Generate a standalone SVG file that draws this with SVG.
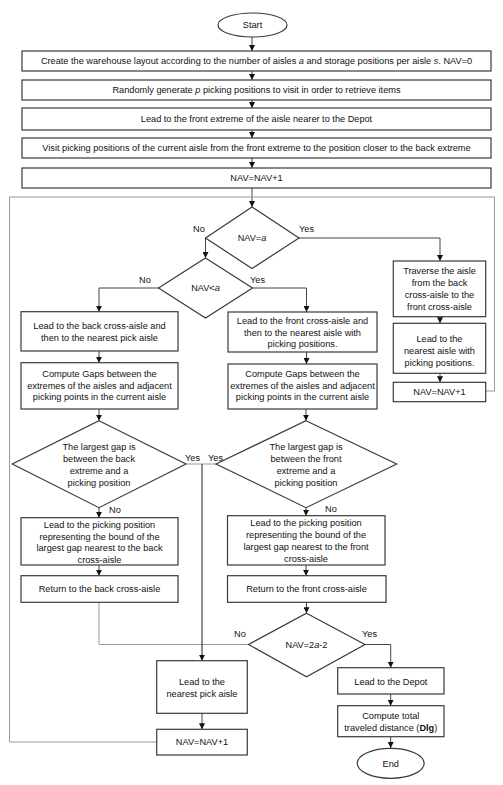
<svg xmlns="http://www.w3.org/2000/svg" width="503" height="785" viewBox="0 0 503 785">
<style>
.b{fill:#fff;stroke:#3a3a3a;stroke-width:1.2}
.t{font-family:"Liberation Sans",Arial,sans-serif;font-size:9.2px;fill:#111;text-anchor:middle}
.l{font-family:"Liberation Sans",Arial,sans-serif;font-size:9.2px;fill:#111}
.c{fill:none;stroke:#444;stroke-width:1}
.g{fill:none;stroke:#999;stroke-width:1}
</style>
<defs>
<marker id="a" viewBox="0 0 6 6" refX="6" refY="3" markerWidth="6" markerHeight="6" markerUnits="userSpaceOnUse" orient="auto"><path d="M0,0L6,3L0,6z" fill="#111"/></marker>
</defs>
<rect width="503" height="785" fill="#fff"/>
<g id="connectors">
<path class="c" d="M252,37V51" marker-end="url(#a)"/>
<path class="c" d="M252,71V80" marker-end="url(#a)"/>
<path class="c" d="M252,100V108" marker-end="url(#a)"/>
<path class="c" d="M252,130V138" marker-end="url(#a)"/>
<path class="c" d="M252,158V168" marker-end="url(#a)"/>
<path class="c" d="M252,188V207" marker-end="url(#a)"/>
<path class="g" d="M9.5,742V197H494.5V391H486"/>
<path class="g" d="M156.7,742H9.5"/>
<path class="c" d="M205.5,238V258" marker-end="url(#a)"/>
<path class="c" d="M158.5,288H99V311.7" marker-end="url(#a)"/>
<path class="c" d="M252.5,288H306.5V312" marker-end="url(#a)"/>
<path class="c" d="M299,238H440V261" marker-end="url(#a)"/>
<path class="c" d="M440,316.7V323.3" marker-end="url(#a)"/>
<path class="c" d="M440,373.3V382.3" marker-end="url(#a)"/>
<path class="c" d="M99,351V362.7" marker-end="url(#a)"/>
<path class="c" d="M306.5,352V364" marker-end="url(#a)"/>
<path class="c" d="M99,409V420.7" marker-end="url(#a)"/>
<path class="c" d="M306,409V420.7" marker-end="url(#a)"/>
<path class="c" d="M99,507.7V517.7" marker-end="url(#a)"/>
<path class="c" d="M306,507.7V515.7" marker-end="url(#a)"/>
<path class="c" d="M99,565V575.7" marker-end="url(#a)"/>
<path class="c" d="M306,565V575.7" marker-end="url(#a)"/>
<path class="c" d="M306.5,602.3V613.3" marker-end="url(#a)"/>
<path class="g" d="M186,464H202"/>
<path class="g" d="M216,464H202"/>
<path class="g" d="M99,602.3V644.5H202"/>
<path class="g" d="M248.5,644.5H202"/>
<path class="c" d="M202,464V660.7" marker-end="url(#a)" style="stroke-width:1.2"/>
<path class="c" d="M365,644.5H390.7V667.7" marker-end="url(#a)"/>
<path class="c" d="M390.7,694V705.7" marker-end="url(#a)"/>
<path class="c" d="M390.7,736.7V748" marker-end="url(#a)"/>
<path class="c" d="M202,713.3V729.3" marker-end="url(#a)"/>
<text class="l" x="193" y="232">No</text>
<text class="l" x="299" y="232">Yes</text>
<text class="l" x="139" y="283">No</text>
<text class="l" x="250" y="283">Yes</text>
<text class="l" x="185" y="461">Yes</text>
<text class="l" x="208" y="461">Yes</text>
<text class="l" x="109" y="513">No</text>
<text class="l" x="325" y="512">No</text>
<text class="l" x="234" y="637">No</text>
<text class="l" x="362" y="637">Yes</text>
</g>
<g id="start"><ellipse class="b" cx="252.5" cy="25" rx="34.5" ry="12"/><text class="t" x="252.5" y="28">Start</text></g>
<g id="create"><rect class="b" x="22" y="51" width="469" height="20"/><text class="t" x="256.5" y="64">Create the warehouse layout according to the number of aisles <tspan font-style="italic">a</tspan> and storage positions per aisle <tspan font-style="italic">s</tspan>. NAV=0</text></g>
<g id="generate"><rect class="b" x="22" y="80" width="469" height="20"/><text class="t" x="256.5" y="93">Randomly generate <tspan font-style="italic">p</tspan> picking positions to visit in order to retrieve items</text></g>
<g id="lead-front"><rect class="b" x="22" y="108" width="469" height="22"/><text class="t" x="256.5" y="122">Lead to the front extreme of the aisle nearer to the Depot</text></g>
<g id="visit"><rect class="b" x="22" y="138" width="469" height="20"/><text class="t" x="256.5" y="151">Visit picking positions of the current aisle from the front extreme to the position closer to the back extreme</text></g>
<g id="nav1"><rect class="b" x="22" y="168" width="469" height="20"/><text class="t" x="256.5" y="181">NAV=NAV+1</text></g>
<g id="d-nav-eq-a"><path class="b" d="M252,207L299,238L252,268.5L205.5,238Z"/><text class="t" x="252" y="241">NAV=<tspan font-style="italic">a</tspan></text></g>
<g id="d-nav-lt-a"><path class="b" d="M205.5,258L252.5,288L205.5,318L158.5,288Z"/><text class="t" x="205.5" y="291">NAV&lt;<tspan font-style="italic">a</tspan></text></g>
<g id="back-cross"><rect class="b" x="21" y="311.7" width="157" height="39.3"/><text class="t" x="99.5" y="329">Lead to the back cross-aisle and</text><text class="t" x="99.5" y="340.5">then to the nearest pick aisle</text></g>
<g id="gaps-left"><rect class="b" x="21" y="362.7" width="157" height="46.3"/><text class="t" x="99.5" y="377">Compute Gaps between the</text><text class="t" x="99.5" y="389">extremes of the aisles and adjacent</text><text class="t" x="99.5" y="400">picking points in the current aisle</text></g>
<g id="front-cross"><rect class="b" x="228" y="312" width="149" height="40"/><text class="t" x="302.5" y="324">Lead to the front cross-aisle and</text><text class="t" x="302.5" y="336">then to the nearest aisle with</text><text class="t" x="302.5" y="347">picking positions.</text></g>
<g id="gaps-right"><rect class="b" x="228" y="364" width="149" height="45"/><text class="t" x="302.5" y="377">Compute Gaps between the</text><text class="t" x="302.5" y="389">extremes of the aisles and adjacent</text><text class="t" x="302.5" y="400">picking points in the current aisle</text></g>
<g id="traverse"><rect class="b" x="393.3" y="261" width="92.4" height="55.7"/><text class="t" x="439.5" y="274">Traverse the aisle</text><text class="t" x="439.5" y="286">from the back</text><text class="t" x="439.5" y="298">cross-aisle to the</text><text class="t" x="439.5" y="310">front cross-aisle</text></g>
<g id="nearest-aisle"><rect class="b" x="393.3" y="323.3" width="92.4" height="50"/><text class="t" x="439.5" y="342">Lead to the</text><text class="t" x="439.5" y="354">nearest aisle with</text><text class="t" x="439.5" y="366">picking positions.</text></g>
<g id="nav-right"><rect class="b" x="393.3" y="382.3" width="92.4" height="19.4"/><text class="t" x="439.5" y="395">NAV=NAV+1</text></g>
<g id="d-gap-back"><path class="b" d="M99,420.7L186,464L99,507.7L12.3,464Z"/><text class="t" x="99" y="449.5">The largest gap is</text><text class="t" x="99" y="461.5">between the back</text><text class="t" x="99" y="473.5">extreme and a</text><text class="t" x="99" y="485.5">picking position</text></g>
<g id="d-gap-front"><path class="b" d="M306,420.7L396.7,464L306,507.7L216,464Z"/><text class="t" x="306" y="449.5">The largest gap is</text><text class="t" x="306" y="461.5">between the front</text><text class="t" x="306" y="473.5">extreme and a</text><text class="t" x="306" y="485.5">picking position</text></g>
<g id="bound-back"><rect class="b" x="21" y="517.7" width="157" height="47.3"/><text class="t" x="99.5" y="528">Lead to the picking position</text><text class="t" x="99.5" y="539.5">representing the bound of the</text><text class="t" x="99.5" y="551">largest gap nearest to the back</text><text class="t" x="99.5" y="563">cross-aisle</text></g>
<g id="bound-front"><rect class="b" x="227.5" y="515.7" width="157.5" height="49.3"/><text class="t" x="306" y="525.5">Lead to the picking position</text><text class="t" x="306" y="537.5">representing the bound of the</text><text class="t" x="306" y="549.5">largest gap nearest to the front</text><text class="t" x="306" y="561.5">cross-aisle</text></g>
<g id="return-back"><rect class="b" x="21" y="575.7" width="157" height="26.6"/><text class="t" x="99.5" y="592">Return to the back cross-aisle</text></g>
<g id="return-front"><rect class="b" x="227.5" y="575.7" width="158.5" height="26.6"/><text class="t" x="306.5" y="592">Return to the front cross-aisle</text></g>
<g id="d-nav-2a"><path class="b" d="M306.5,613.3L365,644.5L306.5,676.7L248.5,644.5Z"/><text class="t" x="306.5" y="648">NAV=2<tspan font-style="italic">a</tspan>-2</text></g>
<g id="nearest-pick"><rect class="b" x="156.7" y="660.7" width="90.6" height="52.6"/><text class="t" x="202" y="684.5">Lead to the</text><text class="t" x="202" y="697">nearest pick aisle</text></g>
<g id="nav-bottom"><rect class="b" x="156.7" y="729.3" width="90.6" height="25.7"/><text class="t" x="202" y="745">NAV=NAV+1</text></g>
<g id="depot"><rect class="b" x="337.7" y="667.7" width="106.3" height="26.3"/><text class="t" x="390.8" y="684.5">Lead to the Depot</text></g>
<g id="total"><rect class="b" x="337.7" y="705.7" width="106.3" height="31"/><text class="t" x="390.8" y="719">Compute total</text><text class="t" x="390.8" y="730.5">traveled distance (<tspan font-weight="bold">Dlg</tspan>)</text></g>
<g id="end"><ellipse class="b" cx="390.7" cy="763.3" rx="33.5" ry="15"/><text class="t" x="390.7" y="766.5">End</text></g>
</svg>
